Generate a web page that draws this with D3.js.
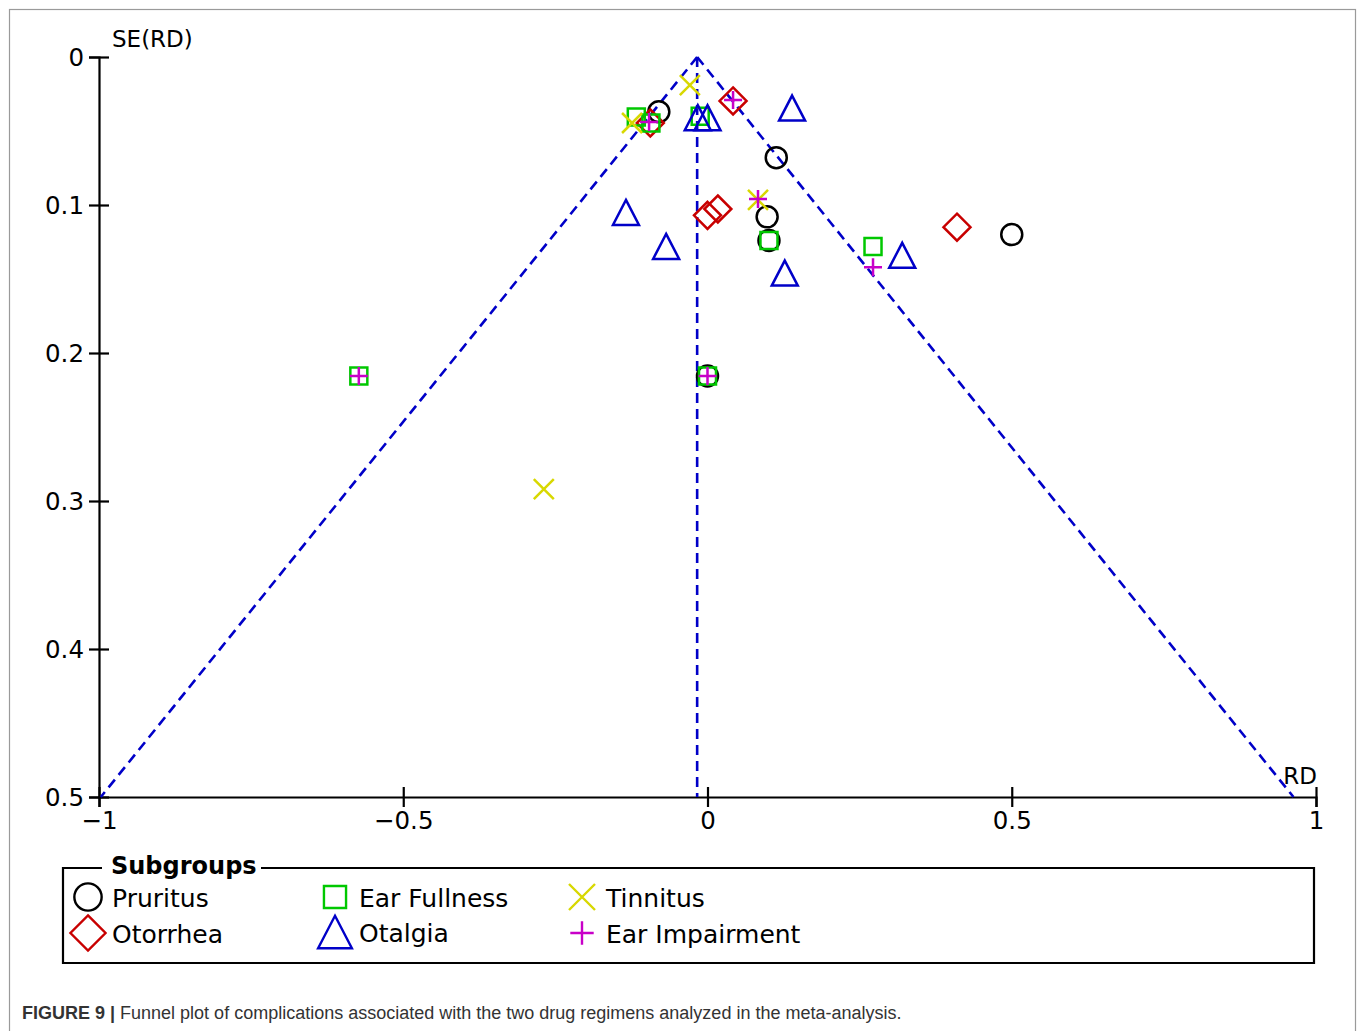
<!DOCTYPE html>
<html>
<head>
<meta charset="utf-8">
<script src="https://cdn.jsdelivr.net/npm/d3@7"></script>
<style>
  body { margin: 0; background: #fff; }
  svg { display: block; }
</style>
</head>
<body>
<svg id="chart" width="1358" height="1031"></svg>
<script>
// Pooled risk difference (apex of the funnel) and the 95% limit multiplier
const pooledRD = -0.017;
const zLimit = 1.96;

// Subgroup names, in legend order
const subgroups = ["Pruritus", "Otorrhea", "Ear Fullness", "Otalgia", "Tinnitus", "Ear Impairment"];

// Study estimates per subgroup: risk difference (RD) and its standard error
const pruritusRD = [-0.080, 0.113, 0.098, 0.101, 0.500, 0.000];
const pruritusSE = [0.037, 0.068, 0.108, 0.124, 0.120, 0.2155];

const otorrheaRD = [0.042, -0.094, 0.000, 0.017, 0.410];
const otorrheaSE = [0.0297, 0.0446, 0.107, 0.1027, 0.115];

const earFullnessRD = [-0.117, -0.093, -0.012, 0.101, 0.272, -0.573, 0.000];
const earFullnessSE = [0.0405, 0.0446, 0.040, 0.124, 0.128, 0.2155, 0.2155];

const otalgiaRD = [-0.016, 0.000, 0.139, -0.134, -0.068, 0.127, 0.320];
const otalgiaSE = [0.041, 0.041, 0.0345, 0.105, 0.128, 0.146, 0.134];

const tinnitusRD = [-0.029, -0.124, 0.083, -0.269];
const tinnitusSE = [0.019, 0.0446, 0.0966, 0.292];

const earImpairmentRD = [0.042, -0.096, 0.083, 0.272, -0.573, 0.000];
const earImpairmentSE = [0.029, 0.044, 0.096, 0.142, 0.2155, 0.2155];

// Axis ticks
const xTicks = [-1, -0.5, 0, 0.5, 1];
const yTicks = [0, 0.1, 0.2, 0.3, 0.4, 0.5];

const svg = d3.select("#chart");
const FONT = "'DejaVu Sans', Verdana, sans-serif";

// Outer figure frame
svg.append("rect")
  .attr("x", 9.5).attr("y", 9.5)
  .attr("width", 1346).attr("height", 1040)
  .attr("fill", "none").attr("stroke", "#9a9a9a").attr("stroke-width", 1.2);

const x = d3.scaleLinear().domain([-1, 1]).range([99, 1316]);
const y = d3.scaleLinear().domain([0, 0.5]).range([57, 797]);

const fmt = d3.format("");

// ---- Axes ----
const xAxis = svg.append("g")
  .attr("transform", `translate(0,${y(0.5)})`)
  .call(d3.axisBottom(x).tickValues(xTicks).tickFormat(fmt).tickSizeOuter(0).tickSize(10).tickPadding(0));
xAxis.select(".domain").attr("stroke", "#000").attr("stroke-width", 2.2);
xAxis.selectAll(".tick line").attr("y1", -10).attr("y2", 10).attr("stroke", "#000").attr("stroke-width", 2.2);
xAxis.selectAll(".tick text")
  .attr("y", 32).attr("dy", null)
  .attr("font-family", FONT).attr("font-size", 24.5).attr("fill", "#000");

const yAxis = svg.append("g")
  .attr("transform", `translate(${x(-1)},0)`)
  .call(d3.axisLeft(y).tickValues(yTicks).tickFormat(fmt).tickSizeOuter(0).tickSize(10).tickPadding(0));
yAxis.select(".domain").attr("stroke", "#000").attr("stroke-width", 2.2);
yAxis.selectAll(".tick line").attr("x1", -10).attr("x2", 10).attr("stroke", "#000").attr("stroke-width", 2.2);
yAxis.selectAll(".tick text")
  .attr("x", -15).attr("dy", "0.36em")
  .attr("font-family", FONT).attr("font-size", 24.5).attr("fill", "#000");

// Axis titles
svg.append("text")
  .attr("x", 112).attr("y", 47)
  .attr("font-family", FONT).attr("font-size", 23).attr("fill", "#000")
  .text("SE(RD)");
svg.append("text")
  .attr("x", 1317).attr("y", 784).attr("text-anchor", "end")
  .attr("font-family", FONT).attr("font-size", 23).attr("fill", "#000")
  .text("RD");

// ---- Funnel: pooled estimate and pseudo 95% limits ----
const funnelColor = "#0000c8";
const seMax = 0.5;
const funnelLines = [
  [[pooledRD, 0], [pooledRD, seMax]],
  [[pooledRD, 0], [pooledRD - zLimit * seMax, seMax]],
  [[pooledRD, 0], [pooledRD + zLimit * seMax, seMax]]
];
const line = d3.line().x(d => x(d[0])).y(d => y(d[1]));
svg.append("g").selectAll("path")
  .data(funnelLines)
  .join("path")
  .attr("d", line)
  .attr("fill", "none")
  .attr("stroke", funnelColor)
  .attr("stroke-width", 2.6)
  .attr("stroke-dasharray", "10,6");

// ---- Marker shapes (s = scale factor) ----
const shapes = {
  circle: s => { const p = d3.path(); const r = 10.5 * s; p.moveTo(r, 0); p.arc(0, 0, r, 0, 2 * Math.PI); return p.toString(); },
  square: s => { const h = 8.5 * s; return `M${-h},${-h}H${h}V${h}H${-h}Z`; },
  diamond: s => { const h = 13.5 * s; return `M0,${-h}L${h},0L0,${h}L${-h},0Z`; },
  triangle: s => { const w = 13 * s, h = 12.5 * s; return `M0,${-h}L${w},${h}L${-w},${h}Z`; },
  times: s => { const h = 10 * s; return `M${-h},${-h}L${h},${h}M${h},${-h}L${-h},${h}`; },
  plus: s => { const h = 9 * s; return `M${-h},0H${h}M0,${-h}V${h}`; }
};

const series = [
  { name: "Pruritus", shape: "circle", color: "#000000", rd: pruritusRD, se: pruritusSE },
  { name: "Otorrhea", shape: "diamond", color: "#c80000", rd: otorrheaRD, se: otorrheaSE },
  { name: "Ear Fullness", shape: "square", color: "#00c800", rd: earFullnessRD, se: earFullnessSE },
  { name: "Otalgia", shape: "triangle", color: "#0000c8", rd: otalgiaRD, se: otalgiaSE },
  { name: "Tinnitus", shape: "times", color: "#d8d800", rd: tinnitusRD, se: tinnitusSE },
  { name: "Ear Impairment", shape: "plus", color: "#c800c8", rd: earImpairmentRD, se: earImpairmentSE }
];

// ---- Study points ----
const pts = svg.append("g");
series.forEach(sr => {
  pts.append("g").selectAll("path")
    .data(sr.rd.map((v, i) => ({ rd: v, se: sr.se[i] })))
    .join("path")
    .attr("transform", d => `translate(${x(d.rd)},${y(d.se)})`)
    .attr("d", shapes[sr.shape](1))
    .attr("fill", "none")
    .attr("stroke", sr.color)
    .attr("stroke-width", 2.5);
});

// ---- Legend ----
const lg = svg.append("g");
const boxL = 63, boxR = 1314, boxT = 868, boxB = 963;
lg.append("path")
  .attr("d", `M102,${boxT}H${boxL}V${boxB}H${boxR}V${boxT}H261`)
  .attr("fill", "none").attr("stroke", "#000").attr("stroke-width", 2.2);
lg.append("text")
  .attr("x", 111).attr("y", 874)
  .attr("font-family", FONT).attr("font-size", 24).attr("font-weight", "bold").attr("fill", "#000")
  .text("Subgroups");

const legendPos = {
  "Pruritus": [88, 897],
  "Otorrhea": [88, 933],
  "Ear Fullness": [335, 897],
  "Otalgia": [335, 932],
  "Tinnitus": [582, 897],
  "Ear Impairment": [582, 933]
};
series.forEach(sr => {
  const [cx, cy] = legendPos[sr.name];
  lg.append("path")
    .attr("transform", `translate(${cx},${cy})`)
    .attr("d", shapes[sr.shape](1.3))
    .attr("fill", "none").attr("stroke", sr.color).attr("stroke-width", 2.4);
  lg.append("text")
    .attr("x", cx + 24).attr("y", cy + 10)
    .attr("font-family", FONT).attr("font-size", 25).attr("fill", "#000")
    .text(sr.name);
});

// ---- Caption ----
const cap = svg.append("text")
  .attr("x", 22).attr("y", 1019)
  .attr("font-family", "'Liberation Sans', Arial, sans-serif").attr("font-size", 18).attr("fill", "#333");
cap.append("tspan").attr("font-weight", "bold").text("FIGURE 9 | ");
cap.append("tspan").text("Funnel plot of complications associated with the two drug regimens analyzed in the meta-analysis.");
</script>
</body>
</html>
